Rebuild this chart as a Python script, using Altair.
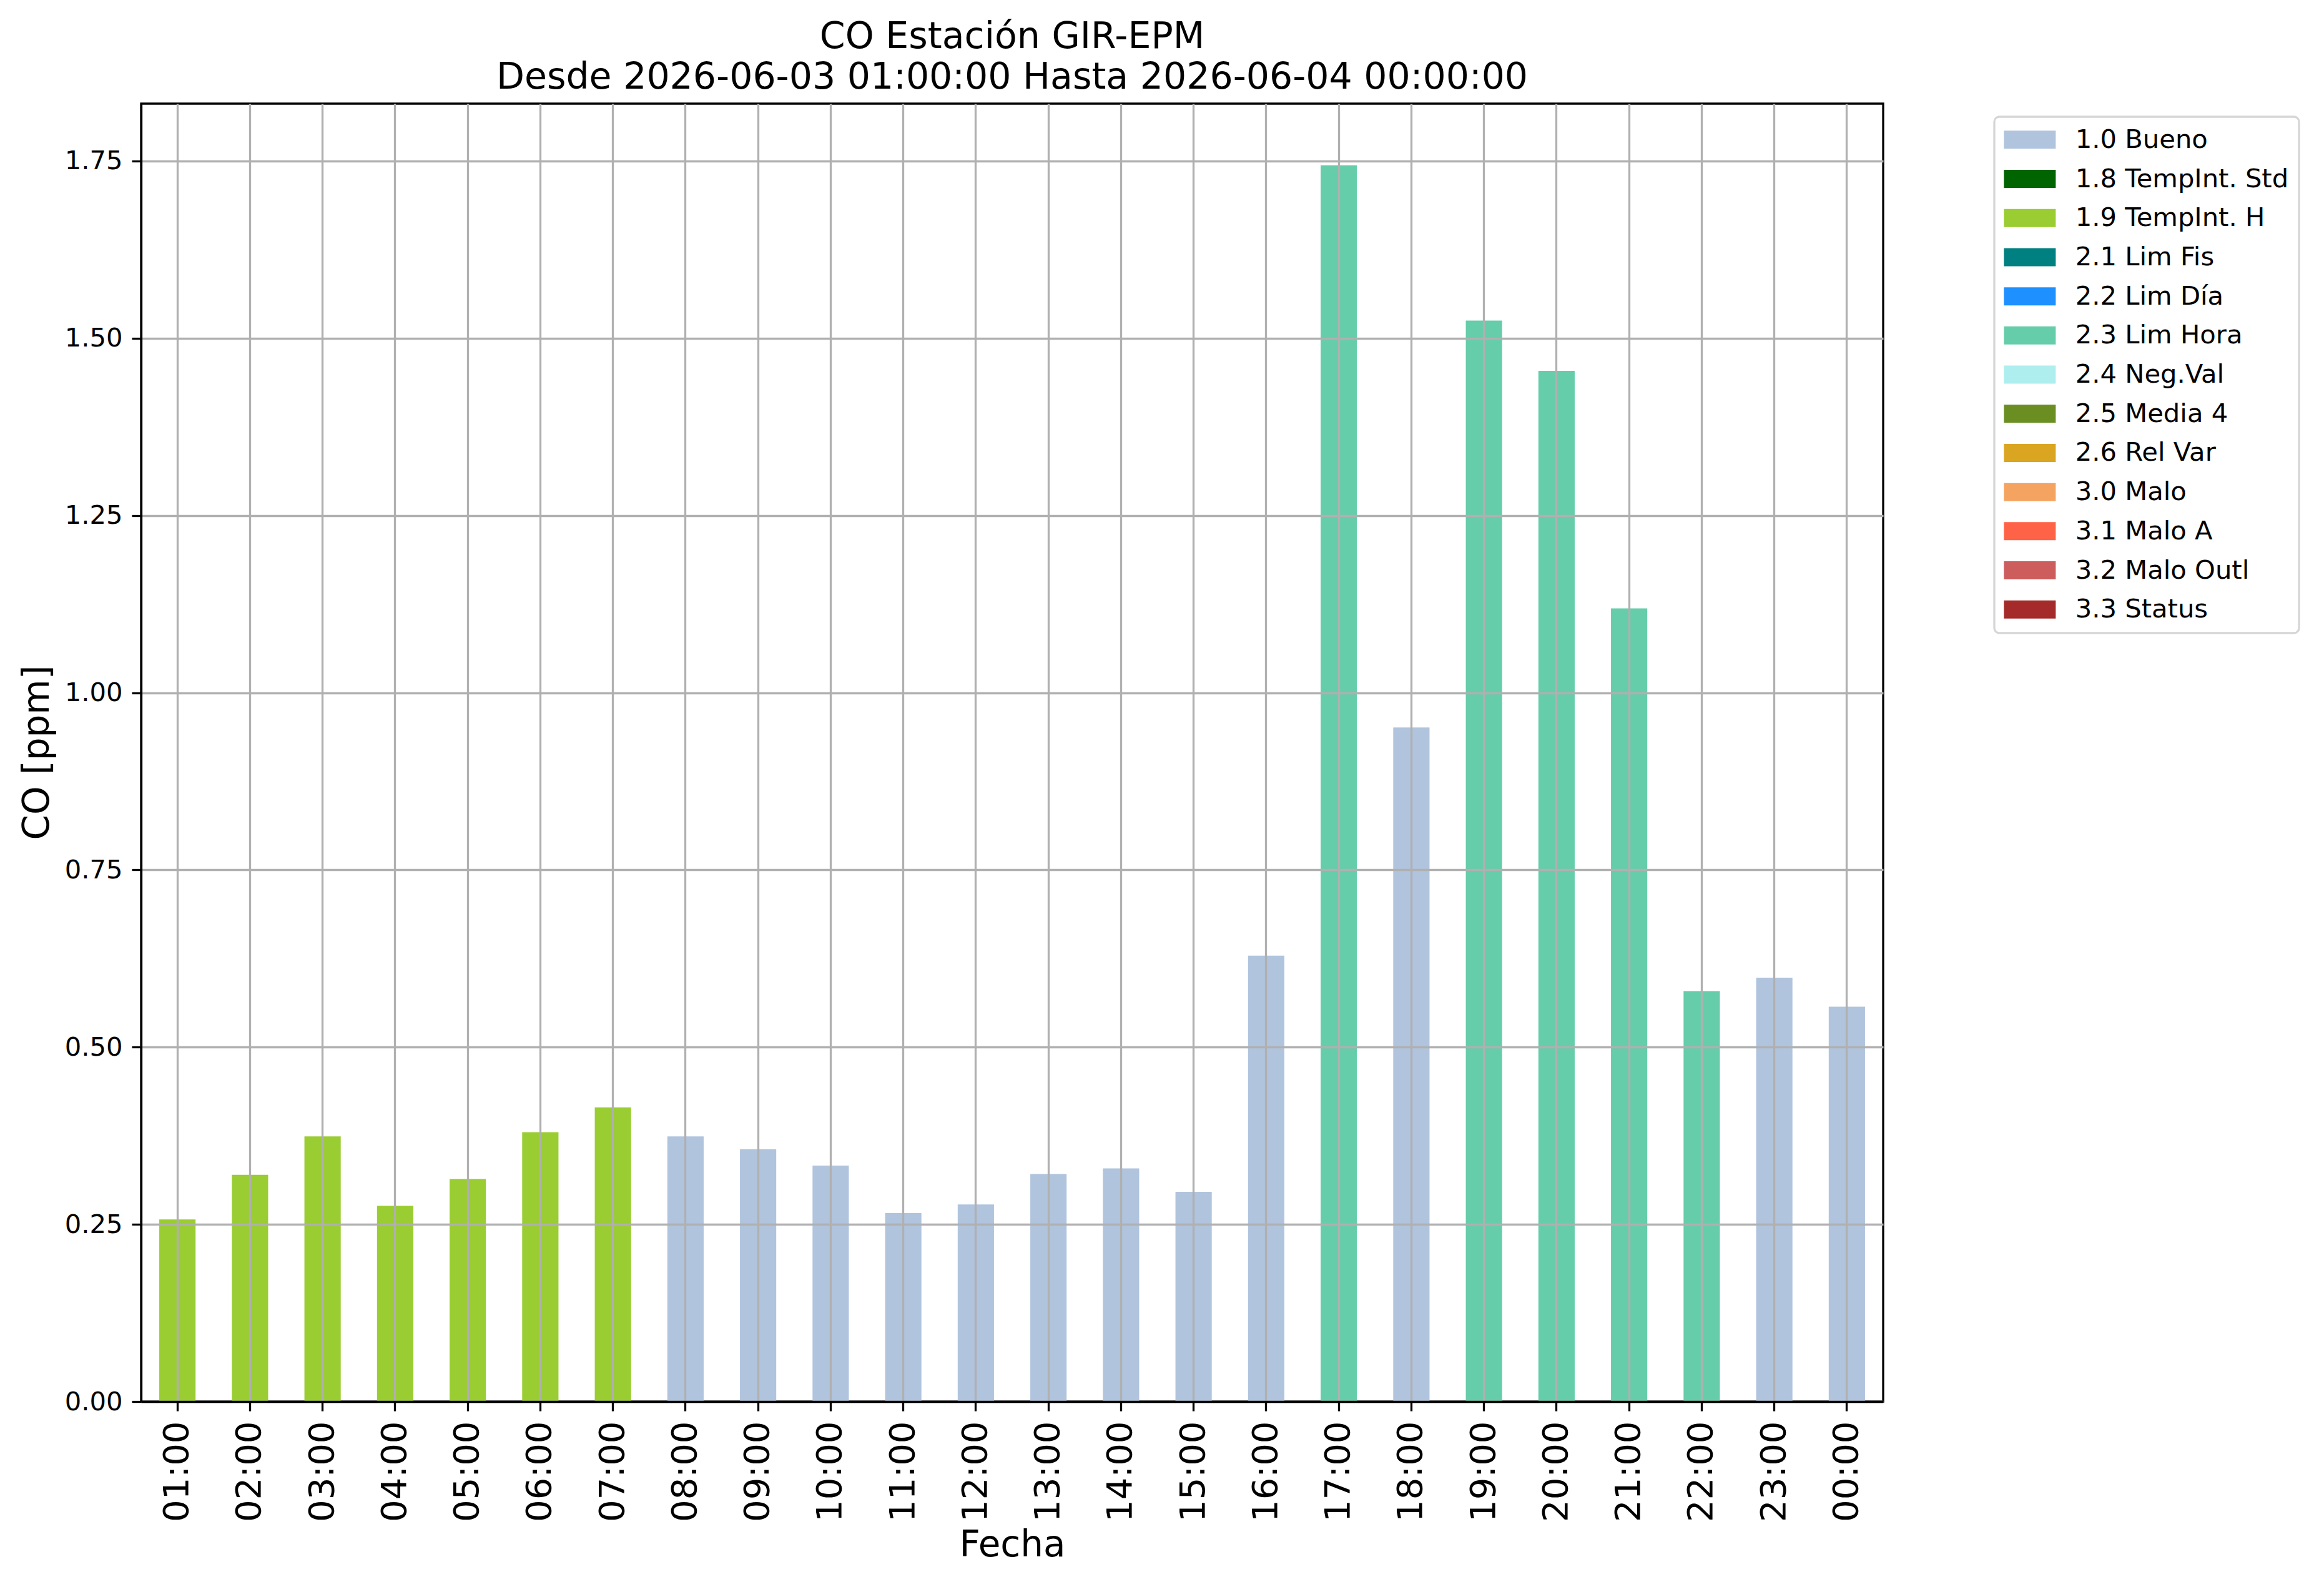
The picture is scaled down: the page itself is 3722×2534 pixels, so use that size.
import altair as alt
import pandas as pd

hours = ["01:00", "02:00", "03:00", "04:00", "05:00", "06:00", "07:00", "08:00",
         "09:00", "10:00", "11:00", "12:00", "13:00", "14:00", "15:00", "16:00",
         "17:00", "18:00", "19:00", "20:00", "21:00", "22:00", "23:00", "00:00"]
values = [0.257, 0.320, 0.374, 0.276, 0.314, 0.380, 0.415, 0.374,
          0.356, 0.333, 0.266, 0.278, 0.321, 0.329, 0.296, 0.629,
          1.744, 0.951, 1.525, 1.454, 1.119, 0.579, 0.598, 0.557]
flags = ["1.9 TempInt. H"] * 7 + ["1.0 Bueno"] * 9 + ["2.3 Lim Hora", "1.0 Bueno"] + \
        ["2.3 Lim Hora"] * 4 + ["1.0 Bueno"] * 2

legend_labels = ["1.0 Bueno", "1.8 TempInt. Std", "1.9 TempInt. H", "2.1 Lim Fis",
                 "2.2 Lim Día", "2.3 Lim Hora", "2.4 Neg.Val", "2.5 Media 4",
                 "2.6 Rel Var", "3.0 Malo", "3.1 Malo A", "3.2 Malo Outl", "3.3 Status"]
legend_colors = ["#B0C4DE", "#006400", "#9ACD32", "#008080", "#1E90FF", "#66CDAA",
                 "#AFEEEE", "#6B8E23", "#DAA520", "#F4A460", "#FF6347", "#CD5C5C",
                 "#A52A2A"]
y_ticks = [0.0, 0.25, 0.5, 0.75, 1.0, 1.25, 1.5, 1.75]

df = pd.DataFrame({"Fecha": hours, "CO": values, "Flag": flags})

W, H = 2790, 2079
LW = 3.3

chart = alt.Chart(df).mark_bar().encode(
    x=alt.X("Fecha:N", sort=hours,
            scale=alt.Scale(paddingInner=0.5, paddingOuter=0.25),
            axis=alt.Axis(title="Fecha", labelAngle=270, labelFontSize=56,
                          labelPadding=16, tickSize=15, tickWidth=LW, tickColor="black",
                          domainColor="black", domainWidth=LW,
                          grid=True, gridColor="#b0b0b0", gridWidth=LW,
                          bandPosition=0.5, zindex=1,
                          titleFontSize=58, titleFontWeight="normal",
                          titleX=W / 2, titleY=247, titleBaseline="alphabetic",
                          titleAlign="center", labelColor="black", titleColor="black")),
    y=alt.Y("CO:Q", scale=alt.Scale(domain=[0, 1.831], nice=False, zero=True),
            axis=alt.Axis(title="CO [ppm]", values=y_ticks, format=".2f",
                          labelFontSize=41.7, labelPadding=15, tickSize=15,
                          tickWidth=LW, tickColor="black",
                          domainColor="black", domainWidth=LW,
                          grid=True, gridColor="#b0b0b0", gridWidth=LW, zindex=1,
                          titleFontSize=58, titleFontWeight="normal", titleAngle=270,
                          titleX=-149, titleY=1039, titleBaseline="alphabetic",
                          titleAlign="center", labelColor="black", titleColor="black")),
    color=alt.Color("Flag:N",
                    scale=alt.Scale(domain=legend_labels, range=legend_colors),
                    legend=alt.Legend(title=None, orient="none", legendX=2968, legendY=21,
                                      symbolType="M-2.862,-1L2.862,-1L2.862,1L-2.862,1Z",
                                      symbolSize=841, symbolStrokeWidth=0, symbolOffset=20,
                                      labelFontSize=41.7, labelOffset=52, labelLimit=1000,
                                      rowPadding=19.7, padding=16, strokeColor="#d6d6d6",
                                      fillColor="white", cornerRadius=8,
                                      labelColor="black")),
).properties(
    width=W, height=H,
    title=alt.TitleParams(
        text=["CO Estación GIR-EPM",
              "Desde 2026-06-03 01:00:00 Hasta 2026-06-04 00:00:00"],
        fontSize=58.5, fontWeight="normal", lineHeight=65, anchor="middle",
        offset=12, color="black"),
    autosize=alt.AutoSizeParams(type="none"),
    padding={"left": 218, "top": 158, "right": 690, "bottom": 273},
).configure(
    font="DejaVu Sans",
).configure_view(
    stroke="black", strokeWidth=LW,
).configure_legend(
    strokeWidth=LW,
)

chart.save("out.html", embed_options={"renderer": "svg", "actions": False})
